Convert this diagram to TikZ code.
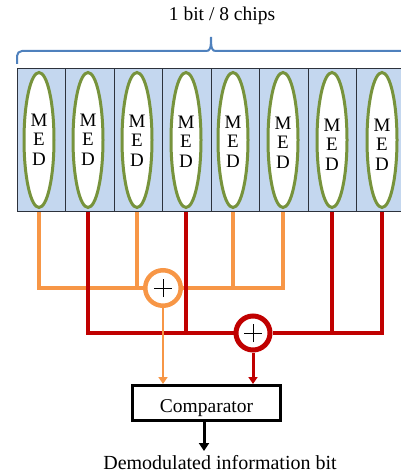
\documentclass[tikz,border=0pt]{standalone}
\usepackage{fontspec}
\setmainfont{Liberation Serif}
\usetikzlibrary{shapes.geometric,arrows.meta,backgrounds}
\definecolor{orangeC}{RGB}{247,150,70}
\definecolor{redC}{RGB}{192,0,0}
\definecolor{greenC}{RGB}{119,147,60}
\definecolor{cellFill}{RGB}{196,215,239}
\definecolor{braceC}{RGB}{79,129,189}
\definecolor{cellLine}{RGB}{45,50,60}
\tikzset{
  cell/.style={draw=cellLine, line width=1pt, fill=cellFill, minimum width=48.5pt, minimum height=142pt, inner sep=0pt},
  medell/.style={ellipse, draw=greenC, line width=3pt, fill=white, minimum width=30pt, minimum height=135pt, inner sep=0pt},
  medtxt/.style={align=center, inner sep=0pt, font=\fontsize{19}{19.3}\selectfont},
  brace/.style={draw=braceC, line width=2pt},
  ttl/.style={font=\fontsize{19.5}{22}\selectfont, inner sep=0pt},
  osumst/.style={circle, draw=orangeC, line width=4.5pt, fill=white, minimum size=35.5pt, inner sep=0pt},
  rsumst/.style={circle, draw=redC, line width=5pt, fill=white, minimum size=34pt, inner sep=0pt},
  plusln/.style={draw=black, line width=1pt},
  obus/.style={draw=orangeC, line width=4pt},
  rbus/.style={draw=redC, line width=4.5pt},
  oarrow/.style={draw=orangeC, line width=2.5pt, -{Triangle[width=9pt,length=7pt]}},
  rarrow/.style={draw=redC, line width=3pt, -{Triangle[width=9pt,length=7pt]}},
  barrow/.style={draw=black, line width=3pt, -{Triangle[width=10pt,length=8pt]}},
  cmpbox/.style={draw=black, line width=3pt, fill=white, minimum width=148pt, minimum height=35pt, inner sep=0pt, text height=18pt, text depth=0pt, font=\fontsize{19.5}{22}\selectfont},
  outtxt/.style={font=\fontsize{20}{22}\selectfont, inner sep=0pt}
}
\begin{document}
\begin{tikzpicture}[x=1pt,y=-1pt]
\useasboundingbox (0,0) rectangle (401,476);
\clip (0,0) rectangle (401,476);
% chip cells
\foreach \i in {1,...,8} {
  \node[cell] (c\i) at ({17+48.5*(\i-0.5)},140) {};
}
% MED ellipses
\foreach \i/\xx/\dd in {1/39/0,2/88/0,3/137/1,4/186/2,5/233/2,6/283/3,7/332/5,8/382/5} {
  \node[medell] (e\i) at (\xx,140) {};
  \node[medtxt] (t\i) at (\xx,139.5+\dd) {M\\E\\D};
}
% brace and title
\draw[brace] (17,64) [rounded corners=5pt] -- (17,51) [sharp corners] -- (206,51)
  .. controls (210,51) and (211,49) .. (211,37)
  .. controls (211,49) and (212,51) .. (216,51) -- (410,51);
\node[ttl, anchor=base] (title) at (222,21) {1 bit / 8 chips};
% summing nodes
\node[osumst] (osum) at (163,288) {};
\node[rsumst] (rsum) at (253,333) {};
\draw[plusln] ([xshift=-9pt]osum.center) -- ([xshift=9pt]osum.center);
\draw[plusln] ([yshift=-9pt]osum.center) -- ([yshift=9pt]osum.center);
\draw[plusln] ([xshift=-9pt]rsum.center) -- ([xshift=9pt]rsum.center);
\draw[plusln] ([yshift=-9pt]rsum.center) -- ([yshift=9pt]rsum.center);
% comparator and output
\node[cmpbox] (cmp) at (206.5,403) {Comparator};
\node[outtxt, anchor=base] (out) at (220,469) {Demodulated information bit};
\coordinate (outtip) at (204,451);
% buses
\begin{pgfonlayer}{background}
  \draw[obus] (c1.south -| e1) |- (osum.west);
  \draw[obus] (c3.south -| e3) -- (e3 |- osum);
  \draw[obus] (c6.south -| e6) |- (osum.east);
  \draw[obus] (c5.south -| e5) -- (e5 |- osum);
  \draw[rbus] (c2.south -| e2) |- (rsum.west);
  \draw[rbus] (c4.south -| e4) -- (e4 |- rsum);
  \draw[rbus] (c8.south -| e8) |- (rsum.east);
  \draw[rbus] (c7.south -| e7) -- (e7 |- rsum);
\end{pgfonlayer}
% arrows
\draw[oarrow] (osum.south) -- (osum.south |- cmp.north);
\draw[rarrow] (rsum.south) -- (rsum.south |- cmp.north);
\draw[barrow] (cmp.south -| outtip) -- (outtip);
\end{tikzpicture}
\end{document}
